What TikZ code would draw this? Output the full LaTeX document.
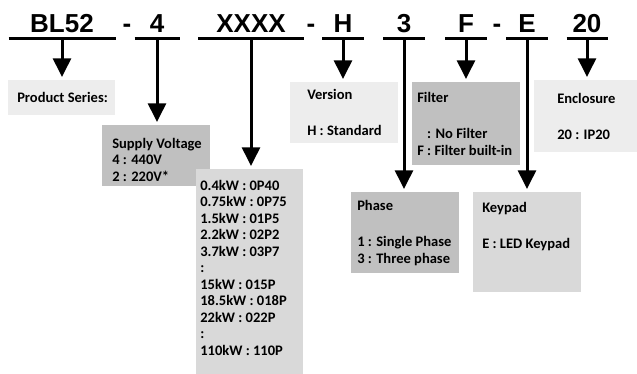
\documentclass[tikz,border=0pt]{standalone}
\usepackage{fontspec}
\setmainfont{Carlito}
\newfontfamily\codefont{Liberation Sans}
\usetikzlibrary{arrows.meta}

\definecolor{fillLight}{HTML}{EDEDED}
\definecolor{fillMid}{HTML}{D9D9D9}
\definecolor{fillDark}{HTML}{C0C0C0}

\begin{document}
\begin{tikzpicture}[x=0.75pt,y=-0.75pt,
  code/.style={anchor=base,inner sep=0pt,font=\codefont\bfseries\fontsize{19.5}{20}\selectfont},
  uline/.style={line width=2.25pt},
  arr/.style={line width=2.25pt,-{Triangle[length=14pt,width=13.5pt]},shorten >=2.3pt},
  box/.style={anchor=north west,inner sep=0pt,minimum width=81pt},
  txt/.style={anchor=west,inner sep=0pt,align=left,font=\bfseries\fontsize{10.9}{12.4}\selectfont}]
  \useasboundingbox (0,0) rectangle (637,374);

  % model code
  \node[code] (bl) at (62,33) {BL52};
  \node[code] (d1) at (127,33) {-};
  \node[code] (volt) at (157,33) {4};
  \node[code] (pow) at (251,33) {XXXX};
  \node[code] (d2) at (311,33) {-};
  \node[code] (ver) at (343,33) {H};
  \node[code] (ph) at (404,33) {3};
  \node[code] (fil) at (466,33) {F};
  \node[code] (d3) at (497,33) {-};
  \node[code] (kp) at (527,33) {E};
  \node[code] (enc) at (587,33) {20};
  \foreach \n/\w in {bl/107,volt/45,pow/106,ver/42,ph/42,fil/42,kp/42,enc/41}
    \draw[uline] ([yshift=-4.1pt]\n.base) ++(-\w/2,0) -- ++(\w,0);

  % boxes
  \node[box,fill=fillLight,minimum width=80.25pt,minimum height=26.25pt] (series) at (8,80) {};
  \node[box,fill=fillDark,minimum height=45.75pt] (supply) at (102,125) {};
  \node[box,fill=fillMid,minimum width=80.25pt,minimum height=153.75pt] (power) at (196,169) {};
  \node[box,fill=fillLight,minimum height=45.75pt] (version) at (290,82) {};
  \node[box,fill=fillDark,minimum height=62.25pt] (filter) at (412,82) {};
  \node[box,fill=fillLight,minimum width=77.25pt,minimum height=54pt] (enclosure) at (534,80) {};
  \node[box,fill=fillDark,minimum height=60.75pt] (phase) at (351,192) {};
  \node[box,fill=fillMid,minimum height=75pt] (keypad) at (473,192) {};

  % box texts
  \node[txt] (series-t) at ([xshift=6.75pt]series.west) {Product Series:};
  \node[txt] (supply-t) at ([xshift=7.5pt,yshift=-3pt]supply.west) {Supply Voltage\\4 : 440V\\2 : 220V*};
  \node[txt] (power-t) at ([xshift=3pt,yshift=3pt]power.west) {0.4kW : 0P40\\0.75kW : 0P75\\1.5kW : 01P5\\2.2kW : 02P2\\3.7kW : 03P7\\:\\15kW : 015P\\18.5kW : 018P\\22kW : 022P\\:\\110kW : 110P};
  \node[txt] (version-t) at ([xshift=12.75pt]version.west) {Version\\ \mbox{}\\[2.25pt]H : Standard};
  \node[txt] (filter-t) at ([xshift=3.75pt]filter.west) {Filter\\ \mbox{}\\[2.25pt]\phantom{F} : No Filter\\F : Filter built-in};
  \node[txt] (enclosure-t) at ([xshift=17.25pt]enclosure.west) {Enclosure\\ \mbox{}\\[2.25pt]20 : IP20};
  \node[txt] (phase-t) at ([xshift=4.5pt]phase.west) {Phase\\ \mbox{}\\[2.25pt]1 : Single Phase\\3 : Three phase};
  \node[txt] (keypad-t) at ([xshift=6.75pt]keypad.west) {Keypad\\ \mbox{}\\[2.25pt]E : LED Keypad\\ \mbox{}\\ \mbox{}};

  % arrows
  \draw[arr] ([yshift=-4.1pt]bl.base) -- (bl.base |- series.north);
  \draw[arr] ([yshift=-4.1pt]volt.base) -- (volt.base |- supply.north);
  \draw[arr] ([yshift=-4.1pt]pow.base) -- (pow.base |- power.north);
  \draw[arr] ([yshift=-4.1pt]ver.base) -- (ver.base |- version.north);
  \draw[arr] ([yshift=-4.1pt]ph.base) -- (ph.base |- phase.north);
  \draw[arr] ([yshift=-4.1pt]fil.base) -- (fil.base |- filter.north);
  \draw[arr] ([yshift=-4.1pt]kp.base) -- (kp.base |- keypad.north);
  \draw[arr] ([yshift=-4.1pt]enc.base) -- (enc.base |- enclosure.north);
\end{tikzpicture}
\end{document}
